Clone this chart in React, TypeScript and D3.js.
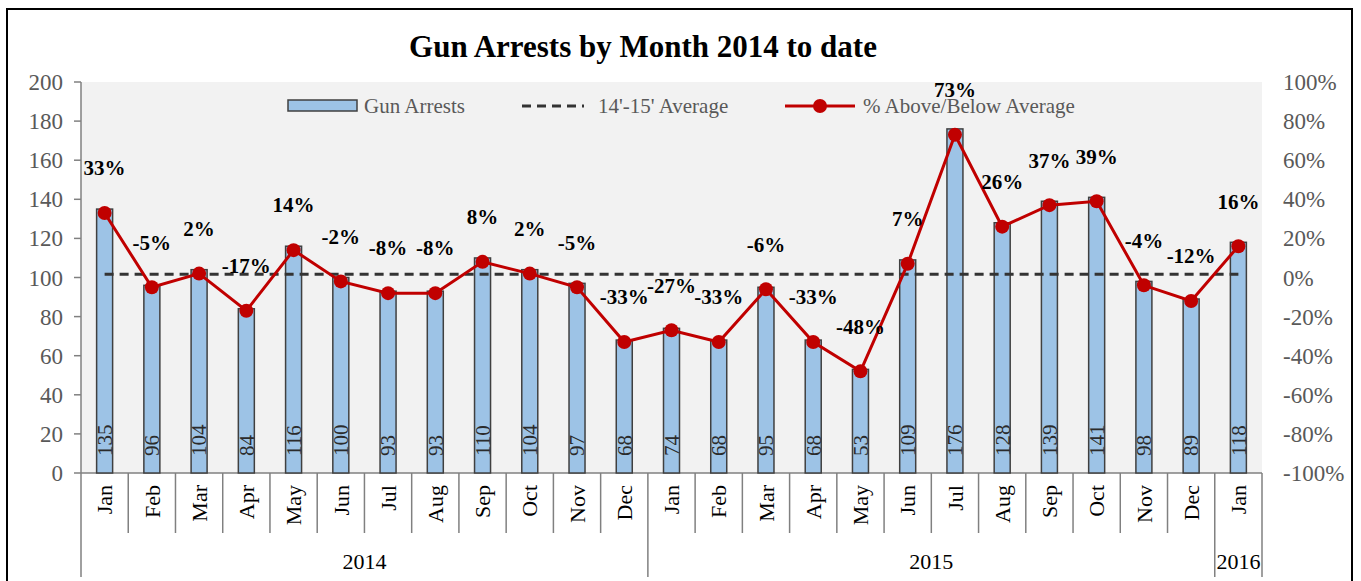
import React, { useEffect, useRef } from 'react'
import * as d3 from 'd3'

// chart data
const months = ['Jan', 'Feb', 'Mar', 'Apr', 'May', 'Jun', 'Jul', 'Aug', 'Sep', 'Oct', 'Nov', 'Dec',
  'Jan', 'Feb', 'Mar', 'Apr', 'May', 'Jun', 'Jul', 'Aug', 'Sep', 'Oct', 'Nov', 'Dec',
  'Jan']
const years = ['2014', '2015', '2016']
const yearSizes = [12, 12, 1]
const gunArrests = [135, 96, 104, 84, 116, 100, 93, 93, 110, 104, 97, 68,
  74, 68, 95, 68, 53, 109, 176, 128, 139, 141, 98, 89,
  118]
const pctAboveBelow = [33, -5, 2, -17, 14, -2, -8, -8, 8, 2, -5, -33,
  -27, -33, -6, -33, -48, 7, 73, 26, 37, 39, -4, -12,
  16]
const average1415 = 101.6
const leftTicks = [0, 20, 40, 60, 80, 100, 120, 140, 160, 180, 200]
const rightTicks = [-100, -80, -60, -40, -20, 0, 20, 40, 60, 80, 100]

const W = 1361
const H = 581
const FONT = '"Liberation Serif", "Times New Roman", serif'

export default function App() {
  const ref = useRef<SVGSVGElement>(null)

  useEffect(() => {
    const svg = d3.select(ref.current)
    svg.selectAll('*').remove()

    // plot area
    const left = 81, right = 1262, top = 82, bottom = 473
    const axisBottom = 577

    const x = d3.scaleBand<number>().domain(d3.range(months.length)).range([left, right]).padding(0)
    const yL = d3.scaleLinear().domain([0, 200]).range([bottom, top])
    const yR = d3.scaleLinear().domain([-100, 100]).range([bottom, top])
    const cx = (i: number) => (x(i) as number) + x.bandwidth() / 2

    // outer frame
    svg.append('rect')
      .attr('x', 7).attr('y', 9).attr('width', 1345).attr('height', 620)
      .attr('fill', 'white').attr('stroke', '#000').attr('stroke-width', 2)

    svg.append('rect')
      .attr('x', left).attr('y', top).attr('width', right - left).attr('height', bottom - top)
      .attr('fill', '#f2f2f2')

    // title
    svg.append('text')
      .attr('x', 643).attr('y', 57)
      .attr('text-anchor', 'middle')
      .style('font-family', FONT).style('font-size', '31px').style('font-weight', 'bold')
      .attr('fill', '#000')
      .text('Gun Arrests by Month 2014 to date')

    // left axis
    svg.append('line')
      .attr('x1', left).attr('x2', left).attr('y1', top).attr('y2', axisBottom)
      .attr('stroke', '#808080').attr('stroke-width', 1.5)
    const lt = svg.append('g')
    lt.selectAll('line').data(leftTicks).join('line')
      .attr('x1', 74).attr('x2', left).attr('y1', d => yL(d)).attr('y2', d => yL(d))
      .attr('stroke', '#808080').attr('stroke-width', 1.5)
    lt.selectAll('text').data(leftTicks).join('text')
      .attr('x', 63).attr('y', d => yL(d)).attr('dy', '0.35em')
      .attr('text-anchor', 'end')
      .style('font-family', FONT).style('font-size', '23px')
      .attr('fill', '#595959')
      .text(d => d)

    // right axis labels
    svg.append('g').selectAll('text').data(rightTicks).join('text')
      .attr('x', 1283).attr('y', d => yR(d)).attr('dy', '0.35em')
      .style('font-family', FONT).style('font-size', '23px')
      .attr('fill', '#595959')
      .text(d => d + '%')

    // category axis
    svg.append('line')
      .attr('x1', left).attr('x2', right).attr('y1', bottom).attr('y2', bottom)
      .attr('stroke', '#808080').attr('stroke-width', 1.5)

    const groupEnds: number[] = []
    yearSizes.reduce((acc, n) => { groupEnds.push(acc + n); return acc + n }, 0)
    const seps = d3.range(1, months.length + 1)
    svg.append('g').selectAll('line').data(seps).join('line')
      .attr('x1', d => left + d * x.bandwidth()).attr('x2', d => left + d * x.bandwidth())
      .attr('y1', bottom).attr('y2', d => groupEnds.includes(d) ? axisBottom : 533)
      .attr('stroke', '#808080').attr('stroke-width', 1.5)

    svg.append('g').selectAll('text').data(months).join('text')
      .attr('transform', (d, i) => `translate(${cx(i)}, 485) rotate(-90)`)
      .attr('dy', '0.35em')
      .attr('text-anchor', 'end')
      .style('font-family', FONT).style('font-size', '22px')
      .attr('fill', '#000')
      .text(d => d)

    let start = 0
    years.forEach((yr, k) => {
      const a = left + start * x.bandwidth()
      const b = left + (start + yearSizes[k]) * x.bandwidth()
      svg.append('text')
        .attr('x', (a + b) / 2).attr('y', 569)
        .attr('text-anchor', 'middle')
        .style('font-family', FONT).style('font-size', '22px')
        .attr('fill', '#000')
        .text(yr)
      start += yearSizes[k]
    })

    // bars
    const barW = 16
    svg.append('g').selectAll('rect').data(gunArrests).join('rect')
      .attr('x', (d, i) => cx(i) - barW / 2)
      .attr('y', d => yL(d))
      .attr('width', barW)
      .attr('height', d => bottom - yL(d))
      .attr('fill', '#9dc3e6')
      .attr('stroke', '#404040').attr('stroke-width', 1.5)

    svg.append('g').selectAll('text').data(gunArrests).join('text')
      .attr('transform', (d, i) => `translate(${cx(i)}, 456) rotate(-90)`)
      .attr('dy', '0.35em')
      .style('font-family', FONT).style('font-size', '21px')
      .attr('fill', '#2b2b2b')
      .text(d => d)

    // average line
    svg.append('line')
      .attr('x1', cx(0)).attr('x2', cx(months.length - 1))
      .attr('y1', yL(average1415)).attr('y2', yL(average1415))
      .attr('stroke', '#333').attr('stroke-width', 3).attr('stroke-dasharray', '9,6')

    // % line
    const line = d3.line<number>().x((d, i) => cx(i)).y(d => yR(d))
    svg.append('path').datum(pctAboveBelow)
      .attr('d', line)
      .attr('fill', 'none').attr('stroke', '#c00000').attr('stroke-width', 3)
    svg.append('g').selectAll('circle').data(pctAboveBelow).join('circle')
      .attr('cx', (d, i) => cx(i)).attr('cy', d => yR(d)).attr('r', 7)
      .attr('fill', '#c00000')

    svg.append('g').selectAll('text').data(pctAboveBelow).join('text')
      .attr('x', (d, i) => cx(i)).attr('y', d => yR(d) - 45).attr('dy', '0.35em')
      .attr('text-anchor', 'middle')
      .style('font-family', FONT).style('font-size', '21px').style('font-weight', 'bold')
      .attr('fill', '#000')
      .text(d => d + '%')

    // legend
    const lg = svg.append('g').style('font-family', FONT).style('font-size', '21px')
    lg.append('rect').attr('x', 288).attr('y', 100).attr('width', 69).attr('height', 11)
      .attr('fill', '#9dc3e6').attr('stroke', '#404040').attr('stroke-width', 1.5)
    lg.append('text').attr('x', 364).attr('y', 113).attr('fill', '#595959').text('Gun Arrests')
    lg.append('line').attr('x1', 522).attr('x2', 584).attr('y1', 106).attr('y2', 106)
      .attr('stroke', '#333').attr('stroke-width', 3).attr('stroke-dasharray', '9,6')
    lg.append('text').attr('x', 598).attr('y', 113).attr('fill', '#595959').text("14'-15' Average")
    lg.append('line').attr('x1', 785).attr('x2', 855).attr('y1', 106).attr('y2', 106)
      .attr('stroke', '#c00000').attr('stroke-width', 3)
    lg.append('circle').attr('cx', 820).attr('cy', 106).attr('r', 7).attr('fill', '#c00000')
    lg.append('text').attr('x', 863).attr('y', 113).attr('fill', '#595959').text('% Above/Below Average')
  }, [])

  return (
    <svg ref={ref} width={W} height={H}
      style={{ position: 'absolute', left: 0, top: 0, background: 'white', display: 'block' }} />
  )
}
